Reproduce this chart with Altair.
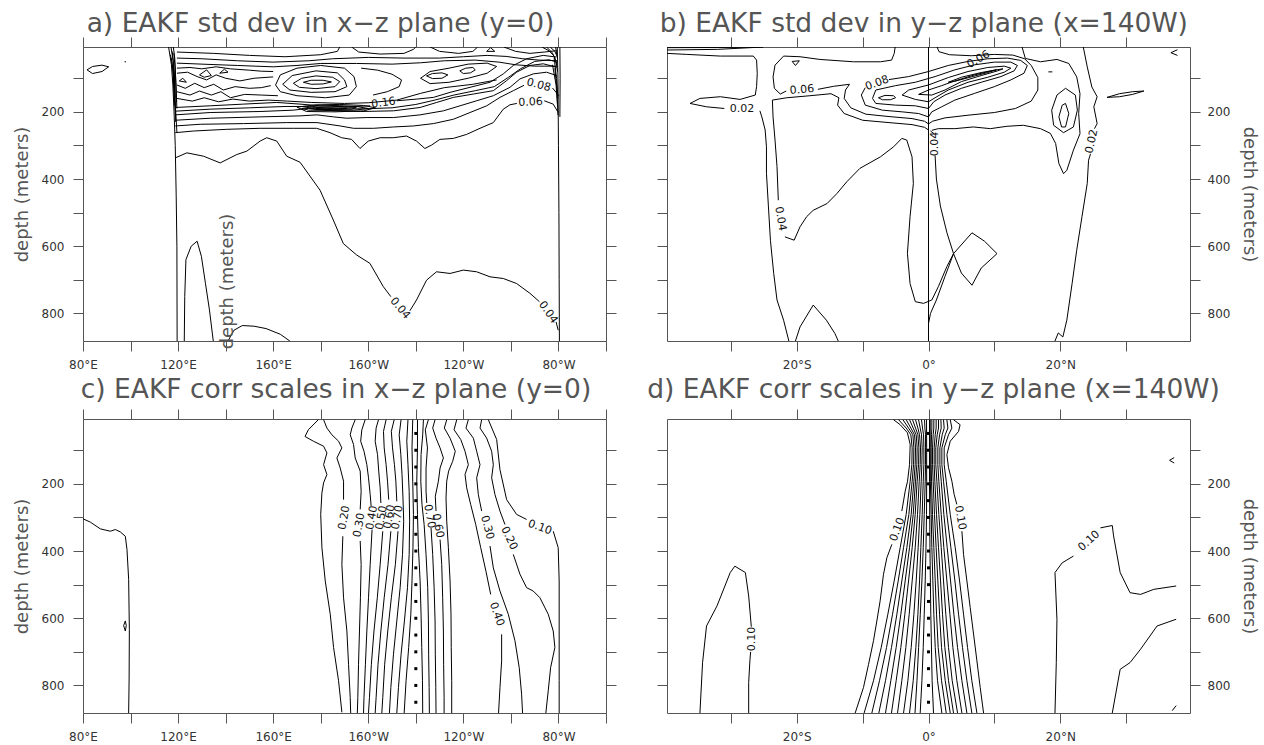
import altair as alt
import pandas as pd

# ---------------- axes / text ----------------
LON_DOMAIN = [80, 300]
LAT_DOMAIN = [-39.7, 39.7]
DEPTH_DOMAIN = [7, 882]
LON_TICKS = [80, 100, 120, 140, 160, 180, 200, 220, 240, 260, 280, 300]
LAT_TICKS = [-30, -20, -10, 0, 10, 20, 30]
DEPTH_TICKS = [100, 200, 300, 400, 500, 600, 700, 800]
TITLE_A = "a) EAKF std dev in x\u2212z plane (y=0)"
TITLE_B = "b) EAKF std dev in y\u2212z plane (x=140W)"
TITLE_C = "c) EAKF corr scales in x\u2212z plane (y=0)"
TITLE_D = "d) EAKF corr scales in y\u2212z plane (x=140W)"
DEPTH_TITLE = "depth (meters)"
DOT_DEPTHS = [50, 100, 150, 200, 250, 300, 350, 400, 450, 500, 550, 600, 650, 700, 750, 800, 850]

# ---------------- panel a : std dev, x-z (lon E, depth) ----------------
A_W120_1 = [(116.0, 7), (117.2, 60), (117.8, 120), (118.3, 200), (118.8, 300), (119.2, 450), (119.5, 600), (119.6, 882)]
A_W120_2 = [(117.0, 7), (118.0, 50), (118.3, 100), (118.6, 150), (119.0, 200), (119.5, 260)]
A_W120_3 = [(118.0, 7), (118.6, 40), (118.9, 90), (119.2, 140), (119.5, 190)]
A_W120_4 = [(116.8, 30), (117.8, 70), (118.2, 130), (118.6, 180)]
A_W120_5 = [(117.5, 20), (118.4, 80), (118.8, 160)]
A_W120_6 = [(117.2, 40), (118.0, 90), (118.4, 150), (118.9, 210)]
A_W120_7 = [(118.2, 25), (118.8, 70), (119.1, 120), (119.4, 170)]
A_W120_8 = [(117.9, 60), (118.5, 110), (119.0, 230)]
A_W280_1 = [(279.5, 7), (279.8, 100), (280.0, 300), (280.2, 500), (280.3, 700), (280.4, 882)]
A_W280_2 = [(280.6, 7), (280.7, 100), (280.6, 215)]
A_NE_1 = [(275.0, 7), (277.5, 25), (279.0, 50), (279.6, 80)]
A_NE_2 = [(276.5, 7), (278.5, 20), (279.7, 40)]
A_NE_3 = [(277.5, 60), (279.0, 120), (279.6, 180)]
A_NE_4 = [(278.2, 40), (279.2, 100), (279.8, 160)]
A_NE_5 = [(278.8, 7), (279.3, 30)]
A_NE_6 = [(273.0, 7), (276.0, 18), (278.3, 35), (279.2, 60)]
A_NE_7 = [(278.5, 70), (279.3, 130), (279.8, 210)]
A_004_1 = [(118.8, 337), (123.7, 322), (130.7, 332), (137.7, 352), (144.7, 327), (148.9, 317), (154.5, 287),
           (157.3, 277), (161.5, 287), (165.7, 332), (171.3, 350), (179.7, 433), (185.3, 522), (189.5, 592),
           (195.1, 626), (200.7, 651), (206.3, 720), (209.5, 750)]
A_004_2 = [(217.5, 792), (220.3, 760), (224.5, 701), (228.7, 676), (234.4, 681), (240.0, 671), (245.6, 676),
           (251.2, 691), (256.8, 696), (262.4, 711), (268.0, 740), (272.0, 765)]
A_004_3 = [(279.0, 825), (279.9, 850)]
A_006_1 = [(118.8, 262), (126.5, 257), (140.5, 252), (154.5, 249), (168.5, 249), (178.3, 249), (183.9, 262),
           (188.8, 277), (193.0, 282), (196.5, 309), (200.0, 287), (205.0, 277), (210.5, 277), (216.1, 272),
           (220.3, 287), (223.8, 309), (226.6, 299), (230.1, 282), (235.8, 279), (241.4, 267), (247.0, 249),
           (252.6, 232), (256.8, 192), (259.6, 179), (262.5, 175)]
A_006_2 = [(274.0, 167), (277.8, 177), (279.9, 202)]
A_008_1 = [(118.8, 242), (129.3, 237), (147.5, 235), (165.7, 232), (178.4, 232), (188.2, 242), (193.8, 249),
           (202.2, 249), (210.6, 245), (219.0, 242), (227.4, 235), (235.8, 222), (242.8, 202), (249.8, 182),
           (255.4, 157), (261.0, 137), (265.5, 121)]
A_008_2 = [(277.5, 129), (280.2, 152)]
A_010 = [(118.8, 225), (133.5, 219), (154.5, 215), (171.3, 212), (178.4, 209), (185.4, 215), (191.0, 219),
         (199.4, 217), (210.6, 217), (221.8, 209), (231.6, 197), (238.6, 182), (245.6, 167), (252.6, 152),
         (259.6, 127), (263.8, 102), (269.4, 87), (275.0, 82), (279.2, 92)]
A_012 = [(118.8, 209), (133.5, 202), (154.5, 199), (168.5, 195), (175.5, 189), (185.4, 197), (196.6, 199),
         (210.6, 197), (221.8, 187), (228.8, 172), (235.8, 157), (244.2, 147), (252.6, 137), (258.2, 107),
         (262.4, 82), (268.0, 62), (273.6, 57), (279.2, 67)]
A_014 = [(118.8, 198), (133.5, 192), (150.0, 188), (165.0, 184), (174.0, 184), (186.0, 191), (198.0, 191),
         (210.0, 188), (220.0, 178), (228.0, 165), (236.0, 150), (245.0, 137), (253.0, 125), (259.0, 97),
         (264.0, 72), (270.0, 50), (276.0, 45), (279.4, 52)]
A_016_1 = [(118.8, 187), (133.5, 182), (147.5, 177), (161.5, 172), (171.3, 177), (179.8, 182), (191.0, 185), (200.8, 182)]
A_016_2 = [(212.0, 167), (220.4, 162), (227.4, 157), (234.4, 142), (242.8, 127), (251.2, 112), (256.8, 87),
           (261.0, 62), (266.6, 42), (273.6, 32), (279.2, 37)]
A_P1 = [(172, 190), (178, 183), (186, 181), (195, 184), (200, 190), (194, 195), (184, 196), (175, 195), (172, 190)]
A_P2 = [(175, 190), (180, 186), (187, 185), (195, 187), (193, 192), (185, 193), (178, 193), (175, 190)]
A_P3 = [(178, 190), (184, 188), (191, 189), (189, 191), (183, 191.5), (178, 190)]
A_P4 = [(170, 186), (178, 179), (188, 178), (198, 181), (203, 188), (198, 197), (186, 200), (174, 199), (170, 186)]
A_T1 = [(119.5, 22), (135, 26), (150, 32), (165, 36), (180, 30), (187, 20), (188, 7)]
A_T2 = [(193, 7), (196, 22), (205, 28), (215, 26), (219, 14), (220, 7)]
A_T3 = [(226, 7), (230, 20), (238, 26), (244, 20), (246, 7)]
A_T4 = [(249.8, 20), (251.5, 9), (253.2, 20), (249.8, 20)]
A_T5 = [(257, 7), (262, 20), (268, 26), (274, 22), (279.3, 18)]
A_T6 = [(119.5, 40), (130, 42), (145, 48), (160, 52), (175, 48), (185, 42), (200, 38), (215, 40), (230, 40),
        (240, 36), (250, 32), (258, 35), (265, 42), (272, 46), (279.5, 48)]
A_T7 = [(119.5, 55), (130, 58), (145, 62), (160, 66), (170, 62), (180, 56), (195, 56), (210, 58), (222, 54),
        (232, 48), (245, 46), (255, 52), (262, 60), (270, 64), (279.5, 64)]
A_Z0 = [(119.5, 70), (125, 68), (130, 72), (136, 66), (142, 72), (150, 76), (155, 79), (160, 80)]
A_E1 = [(172.7, 112), (176, 106), (181, 106), (184.5, 111), (181, 117), (176, 118), (172.7, 112)]
A_E2 = [(168.5, 115), (172, 100), (178, 93), (185, 97), (188, 110), (186, 125), (178, 131), (171, 127), (168.5, 115)]
A_E3 = [(164, 118), (168, 92), (178, 78), (187, 84), (190, 105), (191, 125), (186, 140), (176, 142), (167, 135), (164, 118)]
A_E4 = [(161, 120), (163, 90), (170, 70), (180, 62), (190, 70), (194, 95), (195, 125), (192, 150), (182, 158),
        (170, 152), (163, 140), (161, 120)]
A_E5 = [(224.5, 93), (227, 86), (231, 84), (233.5, 90), (231, 100), (227, 101), (224.5, 93)]
A_E6 = [(238.5, 78), (241, 70), (244, 68), (245, 75), (243, 84), (240, 86), (238.5, 78)]
A_E7 = [(222, 100), (226, 80), (234, 70), (242, 58), (250, 55), (254, 65), (250, 85), (242, 100), (234, 112),
        (226, 116), (222, 100)]
A_M1 = [(197, 70), (204, 76), (210, 88), (214, 105), (213, 125), (208, 140), (202, 150)]
A_Z1 = [(119.5, 85), (124, 82), (128, 95), (132, 105), (136, 90), (140, 100), (146, 108), (152, 100), (160, 96)]
A_Z2 = [(119.5, 120), (123, 130), (127, 115), (131, 128), (135, 118), (139, 135), (144, 125), (150, 130), (155, 128), (159, 122)]
A_Z3 = [(119.5, 140), (125, 150), (129, 138), (134, 150), (138, 140), (142, 158), (148, 148), (155, 150), (162, 152)]
A_Z4 = [(119.5, 160), (126, 168), (131, 158), (137, 170), (143, 162), (150, 168), (158, 165), (166, 168),
        (176, 172), (190, 175), (200, 173), (212, 165), (222, 145), (232, 128), (244, 118), (254, 105)]
A_TR1 = [(120.5, 108), (122, 100), (123.5, 112), (120.5, 108)]
A_TR2 = [(129, 90), (132, 75), (134, 92), (131, 97), (129, 90)]
A_TR3 = [(137.5, 85), (139.5, 73), (141, 82), (137.5, 85)]
A_LOOP_W = [(81.7, 75), (84, 65), (88, 61), (90.8, 66), (88, 80), (84, 86), (81.7, 75)]
A_DOT = [(97.5, 51), (98.1, 51)]
A_SPIKE = [(122.6, 882), (122.8, 750), (123.3, 640), (125.5, 600), (128, 585), (129.8, 630), (131.5, 710),
           (133.2, 790), (134.8, 882)]
A_BUMP = [(141.0, 882), (143.5, 850), (147.0, 836), (152.0, 838), (157.0, 845), (163.0, 862), (167.0, 882)]
A_LABELS = [(213.3, 785, "0.04", 50), (275.6, 797, "0.04", 55), (268.3, 172, "0.06", -3),
            (271.7, 121, "0.08", 15), (206.4, 174, "0.16", -8)]
A_STRAY = [(141.2, 705, DEPTH_TITLE, 270)]

# ---------------- panel b : std dev, y-z (lat, depth) ----------------
B_LENS_TL = [(-39.7, 9), (-32, 8.5), (-25.1, 7), (-32, 14), (-39.7, 16)]
B_002_L1 = [(-39.7, 26), (-36.7, 29), (-31.6, 34), (-26.6, 34), (-26.1, 46), (-26.0, 86), (-26.1, 125),
            (-26.3, 150), (-28.6, 163), (-31.6, 155), (-34.7, 160), (-36.2, 175), (-33.7, 185), (-31.0, 190)]
B_002_L2 = [(-25.6, 197), (-25.3, 215), (-24.8, 254), (-24.6, 304), (-24.6, 383), (-24.3, 483), (-24.0, 582),
            (-23.5, 681), (-23.0, 760), (-22.0, 820), (-21.2, 882)]
B_BUMP = [(-20.2, 882), (-19.5, 840), (-17.5, 775), (-15.5, 820), (-14.2, 860), (-13.7, 882)]
B_006_L1 = [(-21.6, 138), (-22.5, 147), (-23.4, 130), (-23.6, 96), (-23.3, 61), (-22.0, 34), (-19.5, 36),
            (-16.5, 44), (-11.4, 51), (-7.3, 51), (-5.6, 46), (-5.2, 26), (-5.06, 7)]
B_006_L2 = [(-16.8, 133), (-14.4, 124), (-12.0, 118), (-12.6, 135), (-12.8, 160), (-11.8, 188), (-9.5, 207),
            (-6.0, 214), (-2.5, 220), (-0.6, 228), (0.0, 236), (0.6, 228), (2.5, 218), (6.0, 210), (10.0, 202),
            (13.2, 190), (15.6, 168), (16.6, 135), (16.6, 98), (15.6, 62), (14.6, 42), (12.8, 31), (10.0, 29),
            (6.5, 33), (3.2, 30), (1.6, 21), (1.3, 7)]
B_TRI = [(-20.7, 50), (-19.6, 48), (-20.2, 62), (-20.7, 50)]
B_004_L0 = [(-23.7, 165), (-21.5, 158), (-18.0, 152), (-14.8, 146), (-13.6, 158), (-13.8, 180), (-12.8, 205),
            (-10.0, 225), (-6.0, 232), (-2.5, 238), (-0.6, 246), (0.0, 254)]
B_004_L1 = [(-23.7, 165), (-23.6, 215), (-23.3, 284), (-23.0, 363), (-22.8, 463)]
B_004_L2 = [(-21.8, 572), (-20.4, 582), (-19.5, 542), (-18.5, 512), (-17.5, 493), (-15.4, 473), (-13.9, 443),
            (-12.4, 408), (-10.4, 368), (-7.3, 334), (-5.3, 304), (-4.05, 279), (-3.3, 284), (-2.5, 334),
            (-2.3, 413), (-2.8, 512), (-3.2, 621), (-2.8, 711), (-2.0, 765), (-0.75, 770), (0.5, 760),
            (1.5, 720), (2.8, 660), (3.8, 622)]
B_004_E1 = [(0.3, 257), (0.9, 266)]
B_004_E2 = [(1.0, 330), (1.2, 400), (1.8, 480), (2.8, 560), (3.8, 622), (2.5, 690), (1.2, 760), (0.3, 800), (0.0, 830)]
B_TRI2 = [(3.8, 622), (6.6, 560), (8.5, 585), (10.4, 622), (8.0, 665), (6.6, 716), (5.0, 680), (3.8, 622)]
B_004_R = [(14.2, 7), (14.7, 41), (17.0, 51), (19.5, 44), (21.3, 56), (22.5, 96), (23.0, 146), (22.8, 205),
           (23.0, 265), (22.0, 314), (21.0, 374), (20.5, 384), (19.8, 354), (19.3, 294), (18.5, 264),
           (17.0, 250), (14.4, 240), (11.9, 243), (9.4, 250), (6.8, 245), (4.0, 250), (1.5, 250), (0.5, 255)]
B_LOOP_R1 = [(18.7, 195), (19.5, 150), (20.8, 130), (22.3, 150), (22.6, 195), (22.0, 245), (20.5, 262), (19.0, 240), (18.7, 195)]
B_LOOP_R2 = [(19.8, 215), (20.3, 180), (20.8, 175), (21.3, 205), (20.8, 245), (20.2, 245), (19.8, 215)]
B_DASH = [(18.2, 81), (18.8, 81)]
B_002_R1 = [(23.5, 7), (24.1, 66), (24.8, 126), (25.6, 155), (25.1, 185), (25.6, 235), (25.2, 250)]
B_002_R2 = [(24.6, 325), (24.3, 344), (24.1, 413), (23.3, 512), (22.5, 612), (21.8, 711), (21.0, 820),
            (20.4, 870), (19.7, 858), (19.2, 882)]
B_LENS_R = [(27.1, 157), (29.0, 146), (31.0, 140), (32.7, 138), (31.0, 148), (29.0, 155), (27.1, 157)]
B_LT = [(37.8, 15), (36.8, 24), (37.8, 32)]
B_008 = [(-9.6, 128), (-10.2, 150), (-9.6, 180), (-7.0, 195), (-4.0, 200), (-1.5, 205), (0.0, 215), (0.5, 200),
         (2.0, 185), (4.0, 165), (7.0, 145), (10.0, 125), (12.5, 105), (14.5, 85), (15.0, 62), (14.0, 47),
         (12.0, 40), (9.0, 42), (6.0, 50), (3.0, 62), (0.0, 80), (-3.0, 95), (-6.0, 104)]
B_010 = [(-8.5, 160), (-8.0, 135), (-5.0, 122), (-2.0, 112), (1.0, 95), (4.0, 75), (7.0, 60), (10.0, 52),
         (12.5, 52), (13.5, 62), (13.0, 78), (11.0, 95), (8.0, 112), (5.0, 130), (2.5, 150), (0.8, 170),
         (0.0, 190), (-2.0, 182), (-5.0, 180), (-8.0, 175), (-8.5, 160)]
B_012 = [(-4.0, 150), (-3.0, 135), (0.0, 120), (3.0, 98), (6.0, 80), (9.0, 68), (11.5, 64), (12.5, 70),
         (11.5, 82), (9.0, 97), (6.0, 112), (3.0, 135), (1.0, 158), (0.0, 170), (-2.0, 163), (-4.0, 150)]
B_014 = [(-1.5, 148), (0.0, 135), (2.0, 122), (4.0, 108), (7.0, 90), (10.0, 76), (11.3, 72), (10.5, 78),
         (8.0, 92), (5.0, 110), (2.5, 135), (0.5, 150), (-1.5, 148)]
B_016 = [(3.0, 112), (5.0, 97), (8.0, 83), (10.3, 75), (9.0, 83), (6.5, 96), (4.0, 109), (3.0, 112)]
B_EYE = [(-7.6, 158), (-6.6, 151), (-5.3, 152), (-5.0, 158), (-5.8, 164), (-7.0, 164), (-7.6, 158)]
B_LABELS = [(-28.3, 193, "0.02", 0), (-19.2, 135, "0.06", -5), (-22.5, 518, "0.04", 80),
            (0.95, 296, "0.04", 270), (24.8, 288, "0.02", 282), (-7.8, 115, "0.08", -20), (7.6, 44, "0.06", -30)]

# ---------------- panel c : corr scales, x-z ----------------
C_W = [(80.0, 304), (83.1, 314), (87.3, 334), (91.5, 341), (93.6, 336), (95.7, 343), (97.8, 356), (98.5, 395),
       (99.2, 484), (99.5, 633), (99.4, 781), (99.2, 882)]
C_LENS = [(97.8, 608), (97.1, 622), (97.8, 638), (98.2, 622), (97.8, 608)]
C_L10 = [(179.0, 9), (174.8, 39), (173.4, 59), (176.9, 73), (181.2, 88), (182.6, 108), (181.2, 143), (182.6, 172),
         (181.2, 197), (180.5, 227), (180.0, 291), (180.5, 390), (181.9, 489), (184.0, 588), (185.4, 687),
         (187.5, 786), (188.9, 880)]
C_L20_1 = [(181.2, 9), (182.6, 34), (184.7, 54), (187.5, 73), (188.9, 93), (186.8, 123), (188.2, 153), (189.6, 192), (189.6, 247)]
C_L20_2 = [(189.3, 356), (188.9, 440), (189.6, 539), (191.0, 638), (191.7, 737), (192.4, 836), (192.6, 882)]
C_L30_1 = [(194.5, 9), (193.1, 34), (192.4, 54), (193.8, 83), (194.5, 123), (196.6, 162), (197.0, 222), (196.6, 276)]
C_L30_2 = [(196.6, 370), (197.0, 440), (196.7, 539), (196.3, 638), (195.9, 737), (195.6, 836), (195.4, 882)]
C_L40_1 = [(198.7, 9), (197.3, 39), (196.8, 73), (198.2, 103), (199.4, 143), (200.1, 182), (200.8, 232), (201.2, 266)]
C_L40_2 = [(201.6, 336), (200.8, 440), (200.1, 539), (199.4, 638), (198.8, 737), (198.2, 836), (198.0, 882)]
C_L50_1 = [(204.3, 9), (203.3, 34), (202.9, 73), (203.9, 113), (204.4, 162), (205.0, 212), (205.3, 257)]
C_L50_2 = [(206.1, 341), (205.0, 440), (203.8, 539), (202.4, 638), (201.3, 737), (200.5, 836), (200.1, 882)]
C_L60_1 = [(207.5, 9), (206.4, 44), (206.7, 93), (207.5, 143), (208.1, 192), (208.6, 247)]
C_L60_2 = [(209.5, 341), (208.3, 440), (206.7, 539), (205.3, 638), (204.1, 737), (203.3, 836), (202.9, 882)]
C_L70_1 = [(210.9, 9), (209.7, 44), (210.2, 93), (211.0, 143), (211.6, 192), (212.0, 252)]
C_L70_2 = [(212.5, 341), (211.4, 440), (209.7, 539), (208.2, 638), (206.9, 737), (206.1, 836), (205.7, 882)]
C_L80 = [(213.8, 9), (213.0, 54), (213.7, 113), (214.2, 172), (214.6, 242), (214.9, 311), (214.4, 410),
         (213.4, 509), (212.0, 608), (210.6, 707), (209.5, 806), (208.9, 882)]
C_L90 = [(216.7, 9), (216.2, 73), (216.7, 143), (217.2, 222), (217.4, 311), (217.2, 410), (216.5, 509),
         (215.2, 608), (213.8, 707), (212.7, 806), (212.0, 882)]
C_L95 = [(218.7, 9), (218.4, 93), (218.7, 192), (219.0, 291), (218.8, 390), (218.4, 489), (217.9, 588),
         (217.0, 687), (215.9, 786), (215.1, 882)]
C_R90 = [(220.7, 9), (220.7, 93), (220.4, 192), (220.7, 291), (221.1, 390), (221.8, 489), (222.2, 588),
         (222.5, 687), (222.8, 786), (222.9, 882)]
C_R80 = [(223.2, 9), (222.9, 54), (222.2, 113), (222.1, 192), (222.6, 262), (223.5, 321), (224.3, 410),
         (225.0, 509), (225.3, 608), (225.4, 707), (225.6, 806), (225.7, 882)]
C_R70_1 = [(225.3, 9), (224.0, 39), (224.9, 93), (224.3, 153), (224.3, 222), (224.6, 257)]
C_R70_2 = [(226.4, 331), (227.1, 410), (227.7, 509), (228.1, 608), (228.2, 707), (228.4, 806), (228.5, 882)]
C_R60_1 = [(228.1, 9), (227.1, 34), (228.5, 64), (230.2, 93), (231.6, 123), (230.2, 153), (229.5, 192), (228.2, 237), (228.5, 281)]
C_R60_2 = [(230.2, 366), (230.9, 440), (231.3, 539), (231.6, 638), (231.7, 737), (231.9, 836), (231.9, 882)]
C_R50 = [(233.0, 9), (232.0, 34), (234.4, 64), (236.6, 103), (235.5, 133), (233.8, 162), (233.0, 192),
         (232.7, 242), (233.0, 311), (233.7, 390), (234.4, 489), (234.8, 588), (234.9, 687), (235.1, 786), (235.1, 882)]
C_R40_1 = [(237.2, 9), (236.1, 39), (238.9, 68), (240.7, 103), (242.1, 143), (240.7, 172), (241.4, 212),
           (243.1, 262), (245.2, 321), (247.3, 390), (249.5, 460), (251.5, 529)]
C_R40_2 = [(256.1, 648), (256.1, 727), (255.4, 806), (254.8, 882)]
C_R30_1 = [(242.1, 9), (241.1, 34), (244.2, 64), (245.6, 103), (247.0, 143), (245.6, 182), (246.3, 232), (247.7, 281)]
C_R30_2 = [(251.2, 385), (252.6, 450), (255.4, 519), (258.9, 588), (261.7, 667), (263.5, 747), (264.5, 826), (264.9, 882)]
C_R20_1 = [(247.7, 9), (247.0, 34), (249.8, 64), (251.9, 103), (252.6, 143), (251.9, 182), (253.3, 232), (255.4, 281), (257.5, 321)]
C_R20_2 = [(261.0, 410), (263.8, 469), (266.6, 509), (269.4, 519), (272.2, 539), (275.7, 588), (277.8, 638),
           (278.5, 687), (276.7, 747), (275.7, 816), (274.7, 882)]
C_R10_1 = [(250.5, 9), (254.0, 68), (255.4, 158), (258.2, 247), (262.4, 291), (266.6, 306)]
C_R10_2 = [(277.8, 341), (279.9, 390), (280.3, 489), (280.3, 638), (280.3, 786), (280.3, 882)]
C_LABELS = [(190.0, 301, "0.20", 280), (196.3, 323, "0.30", 280), (201.6, 301, "0.40", 280),
            (205.6, 301, "0.50", 280), (209.0, 298, "0.60", 280), (212.4, 300, "0.70", 280),
            (225.7, 297, "0.70", 80), (229.2, 325, "0.60", 80), (250.0, 330, "0.30", 75),
            (259.2, 362, "0.20", 65), (272.2, 330, "0.10", 20), (254.0, 588, "0.40", 70)]

# ---------------- panel d : corr scales, y-z ----------------
D_L1_1 = [(-5.31, 9), (-4.3, 24), (-3.2, 48), (-2.78, 83), (-2.88, 143), (-3.18, 192), (-3.54, 222), (-3.79, 251), (-4.05, 281)]
D_L1_2 = [(-5.56, 380), (-6.32, 420), (-6.83, 469), (-7.34, 548), (-7.84, 608), (-8.35, 667), (-9.1, 737), (-9.87, 806), (-11.13, 882)]
D_L2 = [(-4.55, 9), (-3.39, 34), (-2.68, 54), (-2.48, 93), (-2.53, 143), (-2.78, 192), (-3.39, 291), (-4.3, 390), (-5.21, 489), (-6.17, 588), (-7.18, 687), (-8.35, 786), (-9.77, 882)]
D_L3 = [(-3.89, 9), (-3.03, 34), (-2.37, 54), (-2.22, 93), (-2.27, 143), (-2.48, 192), (-2.98, 291), (-3.79, 390), (-4.6, 489), (-5.46, 588), (-6.37, 687), (-7.44, 786), (-8.6, 882)]
D_L4 = [(-3.39, 9), (-2.68, 34), (-2.12, 54), (-1.97, 93), (-2.02, 143), (-2.22, 192), (-2.63, 291), (-3.29, 390), (-4.05, 489), (-4.8, 588), (-5.62, 687), (-6.53, 786), (-7.54, 882)]
D_L5 = [(-2.88, 9), (-2.32, 34), (-1.87, 54), (-1.72, 93), (-1.77, 143), (-1.97, 192), (-2.32, 291), (-2.88, 390), (-3.54, 489), (-4.2, 588), (-4.91, 687), (-5.72, 786), (-6.53, 882)]
D_L6 = [(-2.43, 9), (-1.97, 34), (-1.61, 54), (-1.46, 93), (-1.51, 143), (-1.72, 192), (-2.02, 291), (-2.48, 390), (-3.03, 489), (-3.59, 588), (-4.2, 687), (-4.91, 786), (-5.62, 882)]
D_L7 = [(-1.97, 9), (-1.61, 34), (-1.36, 54), (-1.21, 93), (-1.26, 143), (-1.41, 192), (-1.67, 291), (-2.02, 390), (-2.48, 489), (-2.93, 588), (-3.44, 687), (-4.05, 786), (-4.7, 882)]
D_L8 = [(-1.51, 9), (-1.26, 34), (-1.06, 54), (-0.96, 93), (-1.01, 143), (-1.11, 192), (-1.31, 291), (-1.57, 390), (-1.87, 489), (-2.22, 588), (-2.63, 687), (-3.13, 786), (-3.79, 882)]
D_L9 = [(-1.06, 9), (-0.91, 34), (-0.75, 54), (-0.7, 93), (-0.7, 143), (-0.8, 192), (-0.96, 291), (-1.16, 390), (-1.36, 489), (-1.61, 588), (-1.92, 687), (-2.32, 786), (-2.88, 882)]
D_L10 = [(-0.6, 9), (-0.55, 34), (-0.45, 54), (-0.45, 93), (-0.45, 143), (-0.5, 192), (-0.65, 291), (-0.8, 390), (-1.0, 489), (-1.25, 588), (-1.5, 687), (-1.75, 786), (-2.05, 882)]
D_L11 = [(-0.3, 9), (-0.28, 93), (-0.28, 192), (-0.3, 291), (-0.38, 390), (-0.5, 489), (-0.65, 588), (-0.8, 687), (-1.0, 786), (-1.26, 882)]
D_R1_1 = [(3.8, 9), (4.8, 24), (4.56, 44), (3.3, 73), (2.79, 113), (3.04, 152), (3.55, 192), (3.9, 232), (4.3, 261)]
D_R1_2 = [(5.07, 341), (5.32, 410), (5.83, 489), (6.33, 568), (6.84, 647), (7.35, 727), (7.85, 806), (8.36, 882)]
D_R2 = [(3.3, 9), (3.55, 34), (3.04, 54), (2.38, 93), (2.38, 143), (2.69, 192), (3.3, 291), (4.06, 390), (4.72, 489), (5.32, 588), (5.93, 687), (6.58, 786), (7.35, 882)]
D_R3 = [(2.79, 9), (2.94, 34), (2.54, 54), (2.03, 93), (2.03, 143), (2.28, 192), (2.79, 291), (3.4, 390), (4.01, 489), (4.56, 588), (5.16, 687), (5.83, 786), (6.58, 882)]
D_R4 = [(2.28, 9), (2.38, 34), (2.08, 54), (1.73, 93), (1.73, 143), (1.93, 192), (2.33, 291), (2.84, 390), (3.35, 489), (3.85, 588), (4.41, 687), (5.07, 786), (5.83, 882)]
D_R5 = [(1.88, 9), (1.93, 34), (1.68, 54), (1.42, 93), (1.42, 143), (1.57, 192), (1.93, 291), (2.33, 390), (2.79, 489), (3.25, 588), (3.7, 687), (4.31, 786), (5.07, 882)]
D_R6 = [(1.52, 9), (1.52, 34), (1.32, 54), (1.11, 93), (1.11, 143), (1.27, 192), (1.57, 291), (1.93, 390), (2.28, 489), (2.63, 588), (3.04, 687), (3.6, 786), (4.41, 882)]
D_R7 = [(1.16, 9), (1.16, 34), (1.02, 54), (0.86, 93), (0.86, 143), (0.96, 192), (1.22, 291), (1.52, 390), (1.83, 489), (2.13, 588), (2.48, 687), (3.04, 786), (3.8, 882)]
D_R8 = [(0.81, 9), (0.81, 34), (0.71, 54), (0.61, 93), (0.61, 143), (0.71, 192), (0.91, 291), (1.16, 390), (1.42, 489), (1.68, 588), (1.98, 687), (2.54, 786), (3.3, 882)]
D_R9 = [(0.51, 9), (0.51, 34), (0.46, 54), (0.41, 93), (0.41, 143), (0.46, 192), (0.61, 291), (0.81, 390), (1.02, 489), (1.22, 588), (1.47, 687), (1.98, 786), (2.69, 882)]
D_R10 = [(0.26, 9), (0.26, 93), (0.28, 192), (0.41, 291), (0.51, 390), (0.66, 489), (0.81, 588), (1.02, 687), (1.37, 786), (2.03, 882)]
D_R11 = [(0.15, 9), (0.15, 192), (0.22, 390), (0.35, 588), (0.55, 786), (0.76, 882)]
D_LL_1 = [(-34.7, 882), (-34.3, 732), (-33.7, 623), (-32.1, 563), (-30.1, 464), (-29.4, 445), (-27.8, 464), (-27.3, 534), (-26.9, 625)]
D_LL_2 = [(-27.0, 700), (-27.1, 722), (-27.3, 791), (-27.3, 882)]
D_RR_1 = [(19.2, 882), (19.4, 732), (19.5, 603), (19.2, 464), (20.3, 435), (22.0, 415)]
D_RR_2 = [(26.1, 331), (27.9, 324), (28.1, 355), (29.1, 464), (30.6, 524), (32.2, 529), (34.2, 514), (37.6, 504)]
D_RR_3 = [(27.9, 882), (29.1, 752), (30.6, 732), (32.2, 692), (34.7, 623), (37.6, 603)]
D_TINY = [(37.0, 875), (37.6, 860)]
D_LT = [(37.3, 122), (36.6, 130), (37.3, 138)]
D_LABELS = [(-4.7, 336, "0.10", 290), (4.8, 301, "0.10", 80), (-26.8, 662, "0.10", 270), (24.4, 370, "0.10", -42)]

# ---------------- build ----------------
FONT = "DejaVu Sans"
AXC = "#555555"
LABC = "#333333"
TITC = "#555555"


def seg_frame(named):
    rows = []
    for name, pts in named.items():
        for i, (x, y) in enumerate(pts):
            rows.append({"seg": name, "i": i, "x": x, "y": y})
    return pd.DataFrame(rows)


def label_frame(items):
    return pd.DataFrame([{"x": x, "y": y, "t": t, "a": a} for (x, y, t, a) in items])


AX = dict(tickSize=10, tickColor=AXC, domainColor=AXC, tickWidth=1, domainWidth=1, grid=False,
          labelFont=FONT, labelFontSize=12, labelColor=LABC, titleFont=FONT, titleFontSize=18,
          titleColor=TITC, titleFontWeight="normal")

LON_EXPR = ("datum.value % 40 == 0 && datum.value < 300 ? (datum.value < 180 ? datum.value + '\u00b0E' : "
            "(360 - datum.value) + '\u00b0W') : ''")
LAT_EXPR = ("datum.value == 0 ? '0\u00b0' : (abs(datum.value) == 20 ? abs(datum.value) + "
            "(datum.value < 0 ? '\u00b0S' : '\u00b0N') : '')")
DEPTH_EXPR = "datum.value % 200 == 0 ? datum.label : ''"


def panel(segs, labels, xdom, xticks, xexpr, title, tdx, toff, yside, dots=None, rule=None, stray=None):
    sx = alt.Scale(domain=xdom, nice=False, zero=False)
    sy = alt.Scale(domain=DEPTH_DOMAIN, reverse=True, nice=False, zero=False)
    bottom = alt.Axis(orient="bottom", values=xticks, labelExpr=xexpr, labelFlush=False, labelOverlap=False,
                      labelPadding=8, title=None, **AX)
    top = alt.Axis(orient="top", values=xticks, labels=False, title=None, **AX)
    if yside == "left":
        ylab = alt.Axis(orient="left", values=DEPTH_TICKS, labelExpr=DEPTH_EXPR, title=DEPTH_TITLE,
                        labelPadding=9, titlePadding=10, labelOverlap=False, **AX)
        yno = alt.Axis(orient="right", values=DEPTH_TICKS, labels=False, title=None, **AX)
    else:
        ylab = alt.Axis(orient="right", values=DEPTH_TICKS, labelExpr=DEPTH_EXPR, title=DEPTH_TITLE,
                        labelPadding=7, titlePadding=10, labelOverlap=False, **AX)
        yno = alt.Axis(orient="left", values=DEPTH_TICKS, labels=False, title=None, **AX)
    lines = alt.Chart(seg_frame(segs)).mark_line(color="black", strokeWidth=1, clip=True).encode(
        x=alt.X("x:Q", scale=sx, axis=bottom), y=alt.Y("y:Q", scale=sy, axis=ylab),
        detail="seg:N", order="i:Q")
    frame = alt.Chart(pd.DataFrame({"x": [xdom[0]], "y": [DEPTH_DOMAIN[0]]})).mark_point(opacity=0).encode(
        x=alt.X("x:Q", scale=sx, axis=top), y=alt.Y("y:Q", scale=sy, axis=yno))
    text = alt.Chart(label_frame(labels)).mark_text(font=FONT, fontSize=11, color="#111111").encode(
        x=alt.X("x:Q", scale=sx, axis=None), y=alt.Y("y:Q", scale=sy, axis=None), text="t:N",
        angle=alt.Angle("a:Q", scale=None))
    layers = [lines, frame, text]
    if dots is not None:
        layers.append(alt.Chart(pd.DataFrame({"x": [dots] * len(DOT_DEPTHS), "y": DOT_DEPTHS})).mark_square(
            size=9, color="black", opacity=1).encode(
            x=alt.X("x:Q", scale=sx, axis=None), y=alt.Y("y:Q", scale=sy, axis=None)))
    if rule is not None:
        layers.append(alt.Chart(pd.DataFrame({"x": [rule]})).mark_rule(color="black", strokeWidth=1).encode(
            x=alt.X("x:Q", scale=sx, axis=None)))
    if stray is not None:
        layers.append(alt.Chart(label_frame(stray)).mark_text(font=FONT, fontSize=18, color=TITC).encode(
            x=alt.X("x:Q", scale=sx, axis=None), y=alt.Y("y:Q", scale=sy, axis=None), text="t:N",
            angle=alt.Angle("a:Q", scale=None)))
    return alt.layer(*layers).resolve_axis(x="independent", y="independent").properties(
        width=523, height=294,
        title=alt.TitleParams(text=title, font=FONT, fontSize=26.5, fontWeight="normal", color=TITC,
                              anchor="middle", dx=tdx, offset=toff, baseline="alphabetic"))


def named(prefix):
    return {k: v for k, v in globals().items() if k.startswith(prefix) and isinstance(v, list)
            and "LABELS" not in k and "STRAY" not in k}


pa = panel(named("A_"), A_LABELS, LON_DOMAIN, LON_TICKS, LON_EXPR, TITLE_A, -24, -21.5, "left", stray=A_STRAY)
pb = panel(named("B_"), B_LABELS, LAT_DOMAIN, LAT_TICKS, LAT_EXPR, TITLE_B, -4.7, -21.5, "right", rule=0)
pc = panel(named("C_"), C_LABELS, LON_DOMAIN, LON_TICKS, LON_EXPR, TITLE_C, -8.5, -16, "left", dots=220)
pd_ = panel(named("D_"), D_LABELS, LAT_DOMAIN, LAT_TICKS, LAT_EXPR, TITLE_D, 5, -16, "right", dots=0)

chart = alt.concat(pa, pb, pc, pd_, columns=2, spacing={"row": 78, "column": 61}, bounds="flush").properties(
    padding={"left": 13, "top": 10, "right": 4, "bottom": 5}, background="white"
).configure_view(stroke=None)

chart.save("out.html", embed_options={"renderer": "svg", "actions": False})
